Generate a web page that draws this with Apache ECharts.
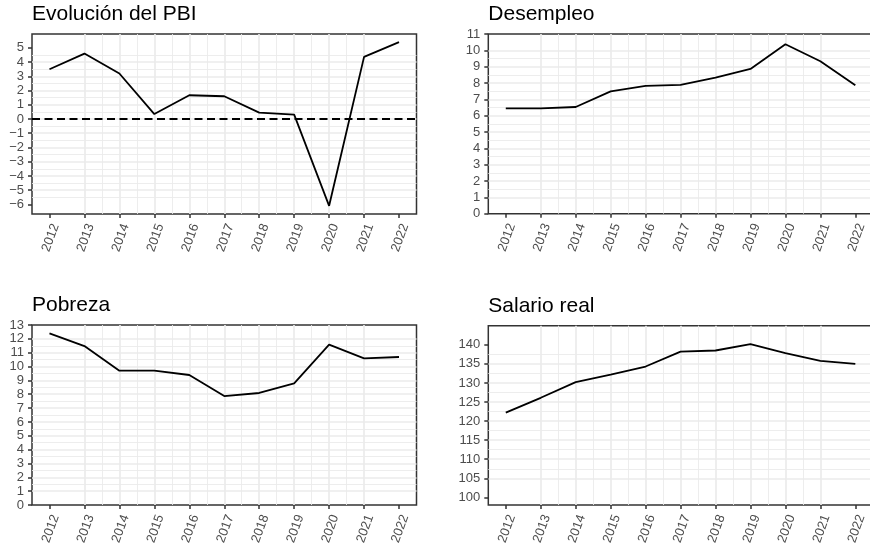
<!DOCTYPE html>
<html>
<head>
<meta charset="utf-8">
<script src="https://cdn.jsdelivr.net/npm/echarts@6/dist/echarts.min.js"></script>
<style>
html,body{margin:0;padding:0;background:#fff;}
#chart{width:870px;height:549px;}
</style>
</head>
<body>
<div id="chart"></div>
<script>
const years = [2012, 2013, 2014, 2015, 2016, 2017, 2018, 2019, 2020, 2021, 2022];
const yearMinor = [2012.5, 2013.5, 2014.5, 2015.5, 2016.5, 2017.5, 2018.5, 2019.5, 2020.5, 2021.5];

const pbi = [3.5, 4.6, 3.2, 0.35, 1.67, 1.6, 0.45, 0.31, -6.1, 4.37, 5.4];
const desempleo = [6.45, 6.45, 6.53, 7.49, 7.82, 7.88, 8.33, 8.86, 10.37, 9.33, 7.86];
const pobreza = [12.4, 11.48, 9.7, 9.7, 9.39, 7.87, 8.09, 8.79, 11.58, 10.59, 10.69];
const salario = [122.2, 126.1, 130.2, 132.2, 134.3, 138.2, 138.5, 140.2, 137.8, 135.8, 135.0];

const pbiTicks = [-6, -5, -4, -3, -2, -1, 0, 1, 2, 3, 4, 5];
const pbiMinor = [-6.5, -5.5, -4.5, -3.5, -2.5, -1.5, -0.5, 0.5, 1.5, 2.5, 3.5, 4.5, 5.5];
const desTicks = [0, 1, 2, 3, 4, 5, 6, 7, 8, 9, 10, 11];
const desMinor = [0.5, 1.5, 2.5, 3.5, 4.5, 5.5, 6.5, 7.5, 8.5, 9.5, 10.5];
const pobTicks = [0, 1, 2, 3, 4, 5, 6, 7, 8, 9, 10, 11, 12, 13];
const pobMinor = [0.5, 1.5, 2.5, 3.5, 4.5, 5.5, 6.5, 7.5, 8.5, 9.5, 10.5, 11.5, 12.5];
const salTicks = [100, 105, 110, 115, 120, 125, 130, 135, 140];
const salMinor = [102.5, 107.5, 112.5, 117.5, 122.5, 127.5, 132.5, 137.5, 142.5];

const titles = ['Evolución del PBI', 'Desempleo', 'Pobreza', 'Salario real'];

const FONT = 'Liberation Sans';
const panels = [
  {title: titles[0], data: pbi, ticks: pbiTicks, minor: pbiMinor, min: -6.675, max: 5.975, left: 32, top: 34, height: 180, hline: 0},
  {title: titles[1], data: desempleo, ticks: desTicks, minor: desMinor, min: 0, max: 11, left: 488.3, top: 34, height: 179.7},
  {title: titles[2], data: pobreza, ticks: pobTicks, minor: pobMinor, min: 0, max: 13, left: 32, top: 325, height: 180},
  {title: titles[3], data: salario, ticks: salTicks, minor: salMinor, min: 98, max: 145, left: 488.3, top: 325.7, height: 179.3}
];

const grid = [], xAxis = [], yAxis = [], series = [], title = [];
const minorStyle = {color: '#EBEBEB', width: 0.9};
const majorStyle = {color: '#EBEBEB', width: 1.7};
const fmt = v => (v < 0 ? '\u2212' + Math.abs(v) : String(v));

panels.forEach((p, i) => {
  grid.push({left: p.left, top: p.top, width: 384.5, height: p.height, show: true,
    outerBoundsMode: 'none', containLabel: false,
    borderColor: '#333333', borderWidth: 1.5, backgroundColor: 'transparent'});
  title.push({text: p.title, left: p.left, top: p.top - 30, padding: 0,
    textStyle: {fontFamily: FONT, fontSize: 21, fontWeight: 'normal', color: '#000'}});
  // minor x
  xAxis.push({type: 'value', gridIndex: i, min: 2011.5, max: 2022.5, position: 'bottom',
    axisLine: {show: false, onZero: false}, axisTick: {show: false, customValues: yearMinor},
    axisLabel: {show: false, customValues: yearMinor},
    splitLine: {show: true, showMinLine: false, showMaxLine: false, lineStyle: minorStyle}});
  // major x
  xAxis.push({type: 'value', gridIndex: i, min: 2011.5, max: 2022.5, position: 'bottom',
    axisLine: {show: false, onZero: false},
    axisTick: {show: true, customValues: years, length: 4, lineStyle: {color: '#333333', width: 1.5}},
    axisLabel: {show: true, customValues: years, rotate: 70, margin: 8, align: 'right', verticalAlign: 'top',
      fontFamily: FONT, fontSize: 13, color: '#4D4D4D', formatter: v => String(v)},
    splitLine: {show: true, showMinLine: false, showMaxLine: false, lineStyle: majorStyle}});
  // minor y
  yAxis.push({type: 'value', gridIndex: i, min: p.min, max: p.max, position: 'left',
    axisLine: {show: false, onZero: false}, axisTick: {show: false, customValues: p.minor},
    axisLabel: {show: false, customValues: p.minor},
    splitLine: {show: true, showMinLine: false, showMaxLine: false, lineStyle: minorStyle}});
  // major y
  yAxis.push({type: 'value', gridIndex: i, min: p.min, max: p.max, position: 'left',
    axisLine: {show: false, onZero: false},
    axisTick: {show: true, customValues: p.ticks, length: 4, lineStyle: {color: '#333333', width: 1.5}},
    axisLabel: {show: true, customValues: p.ticks, margin: 8, fontFamily: FONT, fontSize: 13, color: '#4D4D4D',
      formatter: fmt},
    splitLine: {show: true, showMinLine: false, showMaxLine: false, lineStyle: majorStyle}});
  const s = {type: 'line', xAxisIndex: 2 * i + 1, yAxisIndex: 2 * i + 1,
    data: years.map((y, k) => [y, p.data[k]]), showSymbol: false, symbol: 'none',
    lineStyle: {color: '#000', width: 1.8}, z: 5, silent: true};
  if (p.hline !== undefined) {
    s.markLine = {silent: true, symbol: 'none', label: {show: false},
      lineStyle: {color: '#000', width: 1.8, type: [8, 4.5]},
      data: [{yAxis: p.hline}]};
  }
  series.push(s);
});

const chart = echarts.init(document.getElementById('chart'), null, {renderer: 'canvas'});
chart.setOption({animation: false, title, grid, xAxis, yAxis, series});
</script>
</body>
</html>
